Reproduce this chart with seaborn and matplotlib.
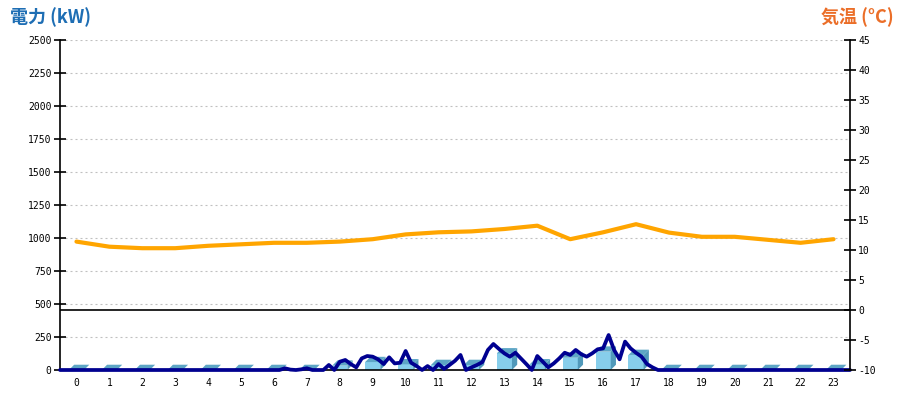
import numpy as np
import pandas as pd
import matplotlib
matplotlib.use('Agg')
import matplotlib.pyplot as plt
from matplotlib.patches import Polygon
import seaborn as sns

# ---------------- data ----------------
hours = list(range(24))
hour_labels = [str(h) for h in hours]

# hourly power bars (kW)
bar_kw = [0, 0, 0, 0, 0, 0, 0, 0,
          33, 60, 43, 38, 38, 126, 43, 93, 139, 114,
          0, 0, 0, 0, 0, 0]

# hourly temperature (deg C)
temp_c = [11.4, 10.55, 10.3, 10.3, 10.7, 10.95, 11.2, 11.2, 11.4, 11.8,
          12.6, 12.95, 13.1, 13.5, 14.05, 11.8, 12.95, 14.3, 12.9, 12.2,
          12.2, 11.7, 11.2, 11.8]

# 10-minute power readings (kW), 00:00 .. 24:00
step_minutes = 10
power_10min = [
    0, 0, 0, 0, 0, 0,          # 0
    0, 0, 0, 0, 0, 0,          # 1
    0, 0, 0, 0, 0, 0,          # 2
    0, 0, 0, 0, 0, 0,          # 3
    0, 0, 0, 0, 0, 0,          # 4
    0, 0, 0, 0, 0, 0,          # 5
    0, 0, 0, 0, 0, 13,         # 6
    3, 0, 5, 13, 0, 0,         # 7
    0, 38, 0, 63, 76, 45,      # 8
    20, 88, 106, 101, 80, 45,  # 9
    96, 50, 55, 144, 55, 30,   # 10
    0, 30, 0, 45, 8, 38,       # 11
    70, 114, 0, 20, 38, 60,    # 12
    152, 197, 160, 126, 101, 131,  # 13
    88, 45, 0, 106, 63, 20,    # 14
    50, 88, 131, 114, 152, 120,    # 15
    101, 126, 157, 164, 265, 152,  # 16
    81, 215, 164, 130, 101, 45,    # 17
    20, 0, 0, 0, 0, 0,         # 18
    0, 0, 0, 0, 0, 0,          # 19
    0, 0, 0, 0, 0, 0,          # 20
    0, 0, 0, 0, 0, 0,          # 21
    0, 0, 0, 0, 0, 0,          # 22
    0, 0, 0, 0, 0, 0,          # 23
    0,
]

left_ticks = list(range(0, 2501, 250))
right_ticks = list(range(-10, 46, 5))

# ---------------- style ----------------
sns.set_theme(style='white')
plt.rcParams['font.family'] = ['DejaVu Sans Mono']
plt.rcParams['axes.unicode_minus'] = False

fig = plt.figure(figsize=(9, 4), dpi=100)
ax = fig.add_axes([60 / 900, 30 / 400, 790 / 900, 330 / 400])

FRONT = '#87CEEB'
TOP = '#5DA5C5'
SIDE = '#5199BA'

df_bar = pd.DataFrame({'hour': hours, 'kw': bar_kw})
sns.barplot(data=df_bar, x='hour', y='kw', ax=ax, color=FRONT, width=0.46,
            saturation=1, linewidth=0, errorbar=None, zorder=2)

# pseudo-3D top and side faces derived from the drawn bars
dx = 0.16
dy = 40
for p in list(ax.patches):
    x0, w, h = p.get_x(), p.get_width(), p.get_height()
    top = Polygon([(x0, h), (x0 + w, h), (x0 + w + dx, h + dy), (x0 + dx, h + dy)],
                  closed=True, facecolor=TOP, edgecolor='none', zorder=2)
    ax.add_patch(top)
    if h > 0:
        side = Polygon([(x0 + w, 0), (x0 + w + dx, dy), (x0 + w + dx, h + dy), (x0 + w, h)],
                       closed=True, facecolor=SIDE, edgecolor='none', zorder=2)
        ax.add_patch(side)

# power line
t_pos = np.arange(len(power_10min)) * step_minutes / 60.0 - 0.5
df_pow = pd.DataFrame({'x': t_pos, 'kw': power_10min})
sns.lineplot(data=df_pow, x='x', y='kw', ax=ax, color='#000090', linewidth=2.7,
             zorder=5, clip_on=False)

ax.set_xlim(-0.5, 23.5)
ax.set_ylim(0, 2500)
ax.set_yticks(left_ticks)
ax.set_yticklabels([str(v) for v in left_ticks])
ax.set_xticks(hours)
ax.set_xticklabels(hour_labels)
ax.set_xlabel('')
ax.set_ylabel('')
ax.set_axisbelow(True)
ax.yaxis.grid(True, color='#C0C0C0', linestyle=(0, (1.8, 2.7)), linewidth=0.8)
ax.xaxis.grid(False)
for s in ['top', 'right']:
    ax.spines[s].set_visible(False)
for s in ['left', 'bottom']:
    ax.spines[s].set_color('black')
    ax.spines[s].set_linewidth(1.2)
ax.tick_params(axis='y', left=True, direction='inout', length=8, width=1.2,
               labelsize=7, pad=2, colors='black')
ax.tick_params(axis='x', bottom=False, length=0, labelsize=7, pad=6, colors='black')

# temperature axis
ax2 = ax.twinx()
df_t = pd.DataFrame({'hour': hours, 'temp': temp_c})
sns.lineplot(data=df_t, x='hour', y='temp', ax=ax2, color='#FFA500', linewidth=3.0, zorder=4)
ax2.axhline(0, color='black', linewidth=1.2, zorder=3)
ax2.set_ylim(-10, 45)
ax2.set_xlim(-0.5, 23.5)
ax2.set_yticks(right_ticks)
ax2.set_yticklabels([str(v) for v in right_ticks])
ax2.set_xlabel('')
ax2.set_ylabel('')
ax2.grid(False)
for s in ['top', 'left', 'bottom']:
    ax2.spines[s].set_visible(False)
ax2.spines['right'].set_color('black')
ax2.spines['right'].set_linewidth(1.2)
ax2.tick_params(axis='y', right=True, direction='inout', length=8, width=1.2,
                labelsize=7, pad=2, colors='black')

# titles
cjk = ['Noto Sans CJK JP', 'DejaVu Sans']
fig.text(0.011, 0.957, '電力 (kW)', family=cjk, fontsize=13, fontweight='bold',
         color='#1E6EB4', ha='left', va='center')
fig.text(0.993, 0.957, '気温 (°C)', family=cjk, fontsize=13, fontweight='bold',
         color='#EB6E28', ha='right', va='center')

fig.savefig('out.png', dpi=100)
